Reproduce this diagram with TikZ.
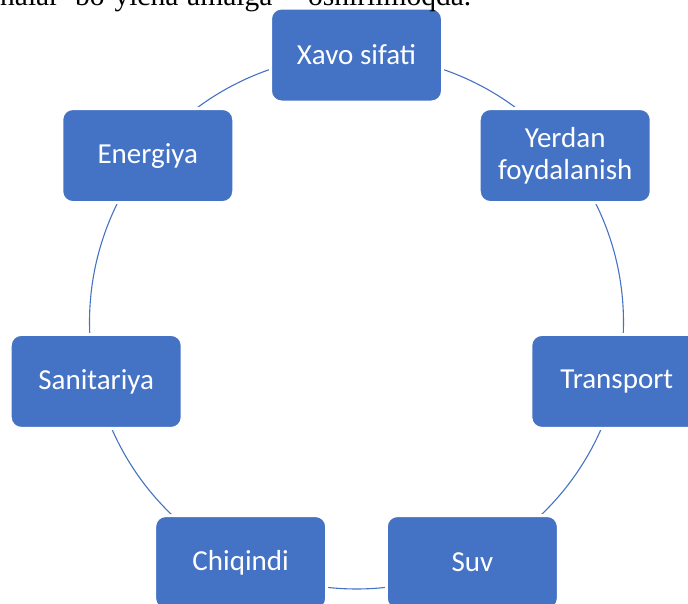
\documentclass[tikz,border=0pt]{standalone}
\usepackage{fontspec}
\setmainfont{Carlito}
\newfontfamily\docserif{Liberation Serif}
\definecolor{boxblue}{HTML}{4472C4}
\pgfdeclarelayer{bg}
\pgfsetlayers{bg,main}
\begin{document}
\begin{tikzpicture}[x=1pt,y=1pt,
  box/.style={rectangle, rounded corners=11pt, fill=boxblue, draw=white, line width=3pt,
    minimum width=172pt, minimum height=94pt, text=white, align=center, inner sep=0pt,
    font=\fontsize{29}{32}\selectfont},
  conn/.style={draw=boxblue, line width=1.1pt},
  doctext/.style={anchor=base west, inner sep=0pt, font=\docserif\fontsize{29.5}{30}\selectfont}]
\useasboundingbox (0,0) rectangle (688,-603);
\coordinate (c) at (356.5,-322);
\def\R{267}
\node[box] (xavo) at ([shift={(90:\R)}]c) {Xavo sifati};
\node[box] (yerdan) at ([shift={(38.571:\R)}]c) {Yerdan\\foydalanish};
\node[box] (transport) at ([shift={(-12.857:\R)}]c) {Transport};
\node[box] (suv) at ([shift={(-64.286:\R)}]c) {Suv};
\node[box] (chiqindi) at ([shift={(-115.714:\R)}]c) {Chiqindi};
\node[box] (sanitariya) at ([shift={(-167.143:\R)}]c) {Sanitariya};
\node[box] (energiya) at ([shift={(141.429:\R)}]c) {Energiya};
\begin{pgfonlayer}{bg}
\draw[conn] (xavo.center) arc[start angle=90, end angle=38.571, radius=\R];
\draw[conn] (yerdan.center) arc[start angle=38.571, end angle=-12.857, radius=\R];
\draw[conn] (transport.center) arc[start angle=-12.857, end angle=-64.286, radius=\R];
\draw[conn] (suv.center) arc[start angle=-64.286, end angle=-115.714, radius=\R];
\draw[conn] (chiqindi.center) arc[start angle=-115.714, end angle=-167.143, radius=\R];
\draw[conn] (sanitariya.center) arc[start angle=-167.143, end angle=-218.571, radius=\R];
\draw[conn] (energiya.center) arc[start angle=141.429, end angle=90, radius=\R];
\end{pgfonlayer}
\node[doctext] (w1) at (0,-5) {nalar};
\node[doctext] (w2) at (75,-5) {bo‘yicha};
\node[doctext] (w3) at (187,-5) {amalga};
\node[doctext] (w4) at (308,-5) {oshirilmoqda.};
\end{tikzpicture}
\end{document}
